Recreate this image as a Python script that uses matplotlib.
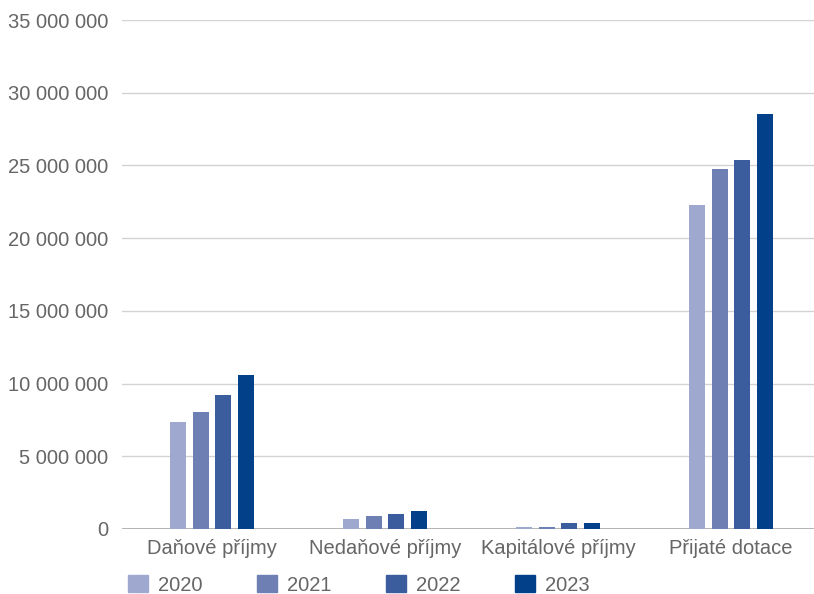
import numpy as np
import matplotlib.pyplot as plt
from matplotlib.patches import Patch
from matplotlib.ticker import FuncFormatter

categories = ["Daňové příjmy", "Nedaňové příjmy", "Kapitálové příjmy", "Přijaté dotace"]
years = ["2020", "2021", "2022", "2023"]
v2020 = [7330000, 710000, 120000, 22300000]
v2021 = [8020000, 870000, 110000, 24760000]
v2022 = [9190000, 1060000, 390000, 25380000]
v2023 = [10570000, 1260000, 390000, 28550000]
colors = ["#9fa8cf", "#6d7fb3", "#3b5c9d", "#02418a"]

plt.rcParams["font.family"] = ["Liberation Sans", "DejaVu Sans"]
text_color = "#666666"

fig = plt.figure(figsize=(8.14, 5.94), dpi=100)
ax = fig.add_axes([122 / 814, 1 - 529 / 594, 1 - 122 / 814, (529 - 20) / 594])

x = np.arange(len(categories))
step = 0.131
width = 0.0925
series = [v2020, v2021, v2022, v2023]
for i, vals in enumerate(series):
    ax.bar(x + (i - 1.5) * step, vals, width, color=colors[i], zorder=3)

ax.set_xlim(-0.52, 3.48)
ax.set_ylim(0, 35000000)
ax.set_yticks(np.arange(0, 35000001, 5000000))
ax.yaxis.set_major_formatter(FuncFormatter(lambda v, p: f"{int(v):,}".replace(",", " ")))
ax.grid(axis="y", color="#d3d3d3", linewidth=1, zorder=0)
ax.axhline(0, color="#a8a8a8", linewidth=1.2, zorder=2)
for s in ax.spines.values():
    s.set_visible(False)

ax.set_xticks(x)
ax.set_xticklabels(categories)
ax.tick_params(axis="both", length=0, labelsize=14.5, labelcolor=text_color)
ax.tick_params(axis="y", pad=10)
ax.tick_params(axis="x", pad=7)

handles = [Patch(color=c, label=y) for c, y in zip(colors, years)]
fig.legend(handles=handles, loc="center left", bbox_to_anchor=(128 / 814, 1 - 585 / 594),
           ncol=4, frameon=False, fontsize=14.5, handlelength=1.0, handleheight=0.9,
           handletextpad=0.5, columnspacing=2.7, borderpad=0, borderaxespad=0,
           labelcolor=text_color)

fig.savefig("out.png", dpi=100)
